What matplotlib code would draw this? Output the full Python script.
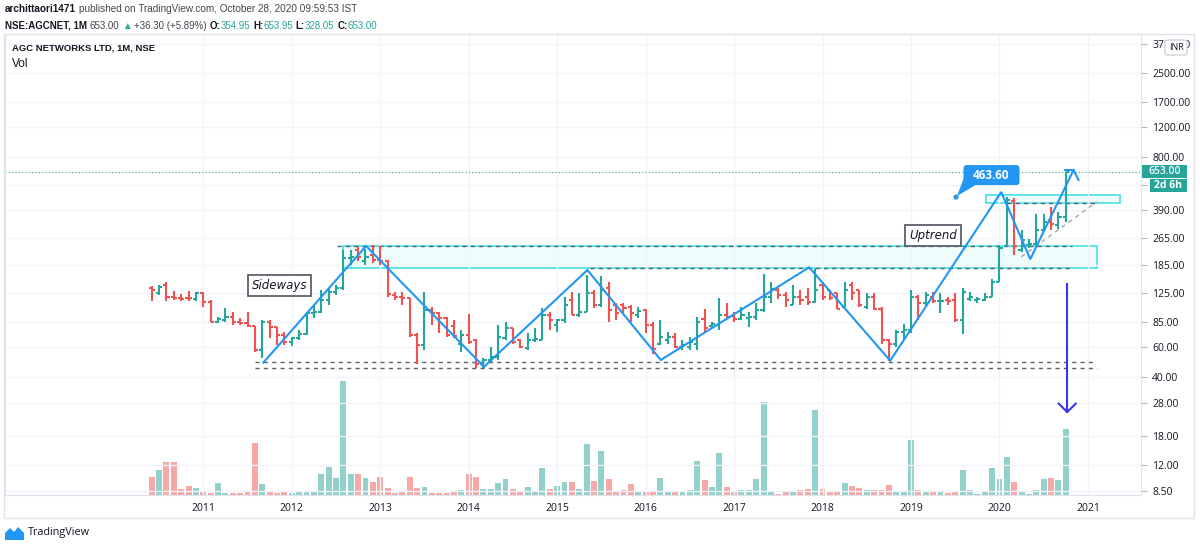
import numpy as np
import pandas as pd
import matplotlib
matplotlib.use("Agg")
import matplotlib.pyplot as plt
from matplotlib.patches import Rectangle, FancyBboxPatch, Polygon, Circle
from matplotlib.transforms import IdentityTransform

# ---------------- data (monthly bars, Jun 2010 .. Oct 2020) ----------------
months = pd.period_range("2010-06", "2020-10", freq="M")

opens = [134, 125, 140, 119, 118, 118, 116, 125, 111, 84.5,
         87, 90.5, 85, 83.5, 80, 57.7, 85, 79, 70.8, 64,
         68, 72, 95, 97, 114, 128, 134, 202, 225, 193,
         210, 197, 195, 122, 119, 117, 70.8, 61.8, 99.5, 95,
         89.5, 80, 63, 70.8, 66, 48, 50.4, 52.7, 68, 78,
         66, 59, 66, 66, 93, 81, 86.8, 114, 93, 97,
         125, 107, 134, 107, 107, 104, 93, 99.5, 81, 63,
         66, 69, 60, 60, 63, 88, 80, 81, 93, 91.5,
         88, 89, 90.5, 99.5, 119, 131, 122, 107, 119, 119,
         111, 140, 131, 125, 104, 140, 131, 104, 119, 101,
         66, 63, 74, 75.8, 119, 110, 119, 112, 114, 114,
         86.8, 116, 114, 114, 119, 145, 237, 440, 225, 241,
         246, 296, 332, 317, 354.95]
highs = [138, 140, 145, 129, 124, 129, 128, 128, 114, 90.5,
         103, 96.5, 89.5, 96.5, 80, 86.8, 86.8, 79.5, 74, 69,
         75.8, 97, 105, 131, 134, 140, 225, 225, 236, 230,
         241, 238, 198, 128, 128, 117, 73, 128, 104, 97,
         90, 86.8, 75.8, 94, 67, 52, 60, 81, 85, 78,
         67, 73, 78, 102, 97, 88, 119, 128, 125, 160,
         131, 158, 145, 110, 110, 107, 104, 101, 85, 86.8,
         74, 73, 66, 69, 90, 101, 85, 117, 110, 97,
         104, 97, 110, 162, 145, 134, 128, 140, 131, 134,
         173, 145, 131, 125, 145, 145, 131, 126, 125, 104,
         67, 75.8, 82, 131, 122, 128, 128, 125, 119, 125,
         134, 128, 119, 125, 151, 241, 463.6, 455, 296, 262,
         370, 370, 405, 378, 653.95]
lows = [113, 122, 112, 114, 113, 113, 112, 104, 84, 83,
        85, 81, 81, 79, 56.5, 52, 68, 61.8, 61.8, 61,
        66, 70.8, 89, 95, 107, 122, 131, 184, 193, 184,
        190, 184, 119, 114, 107, 69, 48, 57.7, 81, 73,
        69, 68, 56.5, 63, 45, 45, 49, 50.4, 66, 63,
        59, 57.7, 64.5, 66, 75.8, 74, 83, 93, 91, 97,
        102, 104, 85, 86.8, 95, 85, 89, 72.5, 55, 61.8,
        63, 59, 57.7, 57.7, 57.7, 74, 78, 75.8, 89, 85,
        86.8, 79.5, 86.8, 97, 110, 116, 104, 107, 107, 107,
        110, 114, 114, 101, 104, 114, 104, 101, 99.5, 63,
        50, 60, 67, 73, 86.8, 104, 110, 95, 107, 84,
        72, 112, 110, 112, 119, 145, 235, 210, 219, 231,
        241, 290, 296, 302, 328.05]
closes = [131, 137, 119, 118, 116, 117, 125, 111, 84.5, 88,
          90.5, 85, 83.5, 80, 57.7, 85, 79, 70.8, 64.5, 68,
          72, 95, 97, 114, 128, 134, 202, 205, 205, 205,
          197, 195, 124, 119, 117, 70.8, 61.8, 99.5, 95, 89.5,
          70.8, 69.5, 70.8, 64.5, 48, 50.4, 52.7, 69, 78, 64.5,
          60, 66, 67, 93, 86.8, 86.8, 107, 93, 97, 125,
          107, 131, 99.5, 96, 102, 96, 98, 81, 58.2, 69,
          69, 60, 61.8, 64.5, 85, 78, 82, 93, 90.5, 88,
          93, 90.5, 99.5, 119, 132, 122, 114, 119, 114, 111,
          131, 119, 117, 101, 131, 125, 107, 119, 101, 66,
          63, 74, 75.8, 119, 110, 122, 112, 113, 112, 86.8,
          128, 119, 116, 119, 145, 233, 445, 239, 258, 246,
          296, 332, 320, 355, 653.00]
volume = [18.3, 25, 32.7, 33.3, 5.7, 9, 7.3, 4.3, 2.3, 11.7,
          2.3, 2.3, 1.7, 3.3, 52.3, 10.7, 3.3, 2.3, 3.7, 2.3,
          3.3, 3.7, 3.7, 21, 28.3, 16.7, 114, 21, 21, 16.7,
          13.3, 17.7, 6.7, 2.3, 4.3, 18.3, 6.7, 7.7, 2.3, 2.3,
          1.7, 3.3, 5, 21, 18.3, 5.7, 5.7, 11.7, 16.3, 6.3,
          3.7, 8.3, 3.3, 27.3, 5.7, 9.3, 13, 13.3, 6.3, 51.3,
          14.3, 44, 16, 3.3, 5, 10.8, 3.4, 4.4, 3.7, 16.9,
          2.7, 2.7, 2.7, 5, 33.8, 15.5, 8.1, 41.9, 8.1, 2.7,
          5, 5, 16.2, 93.3, 2.7, 1.4, 3.4, 2.7, 5, 5.7,
          85.5, 6.1, 4.4, 2.7, 12.5, 9.1, 6.8, 5, 5, 5.4,
          10.1, 4.4, 3, 55.4, 5, 4.4, 4.4, 3.4, 2, 3,
          25, 5, 1.4, 3, 27, 16.2, 37.9, 13.2, 3, 1.4,
          5, 16.2, 17.2, 15.5, 65.6]

years = list(range(2011, 2022))
price_ticks = [3750, 2500, 1700, 1200, 800, 550, 390, 265, 185, 125, 85,
               60, 40, 28, 18, 12, 8.5]
hidden_ticks = [550]   # label covered by the countdown box in the reference

# drawings (x in months since Jun 2010, y = price)
zigzag_x = [15.14, 29.08, 45.08, 59.10, 69.06, 89.19, 100.18, 115.24, 119.18, 125.05]
zigzag_y = [48.6, 238, 45.9, 171.6, 50.4, 178, 49.9, 496.6, 199, 670]
zz_head_x = [123.92, 125.05, 125.72]
zz_head_y = [670, 670, 585]
down_arrow_x = 124.19
down_arrow_y = [141.8, 24.8]
down_head_y = 27.8
support_lines = [(14.0, 127.7, 48.7), (14.0, 128.2, 45.0),
                 (25.1, 124.9, 238), (59.5, 124.9, 177.5), (116.0, 128.2, 425.8)]
diag_x = [117.98, 128.2]
diag_y = [205.7, 435]
zone_big = (26.0, 128.2, 175.6, 238)
zone_small = (113.2, 131.3, 427, 477)
callout_price = 463.6
callout_x = 109.1
last_price = 653.00

# ---------------- figure ----------------
W, H = 1200, 549
fig = plt.figure(figsize=(W / 100, H / 100), dpi=100)
fig.patch.set_facecolor("white")
FONT = ["Open Sans", "DejaVu Sans"]
NARROW = ["Liberation Sans", "DejaVu Sans"]
DARK = "#131722"
TEAL = "#26a69a"
RED = "#ef5350"
GRID = "#f0f3fa"
BORDER = "#e0e3eb"


def fx(px):
    return px / W


def fy(py):
    return 1 - py / H


L, R, T, B = 5, 1141, 34, 495
rect = [fx(L), fy(B), (R - L) / W, (B - T) / H]
axv = fig.add_axes(rect)
ax = fig.add_axes(rect, sharex=axv)
ax.patch.set_visible(False)

x = np.arange(len(months))
o = np.array(opens); h = np.array(highs); lo = np.array(lows); c = np.array(closes)
up = c >= o
cols = np.where(up, TEAL, RED)
vcols = np.where(up, "#92d1cb", "#f6a8a6")

# volume
axv.bar(x, volume, width=0.8, color=vcols, linewidth=0)
axv.set_ylim(0, B - T)
axv.axis("off")

# price axes setup
ax.set_yscale("log")
ax.set_ylim(8.01, 4274)
ax.set_xlim(-19.9, 134.2)
ax.yaxis.tick_right()
ax.yaxis.set_minor_locator(matplotlib.ticker.NullLocator())
ax.set_yticks(price_ticks, labels=["" if v in hidden_ticks else f"{v:.2f}" for v in price_ticks])
year_pos = [(pd.Period(f"{y}-01", "M") - months[0]).n for y in years]
ax.set_xticks(year_pos, labels=[str(y) for y in years])
ax.grid(True, color=GRID, lw=1, zorder=0)
ax.tick_params(axis="y", which="major", length=4, color="#b2b5be", labelsize=7.5,
               labelcolor=DARK, pad=4)
ax.tick_params(axis="x", length=0, labelsize=7.5, labelcolor=DARK, pad=6)
for lab in ax.get_yticklabels() + ax.get_xticklabels():
    lab.set_family(FONT)
for s in ax.spines.values():
    s.set_color(BORDER)

# zones
x0, x1, y0, y1 = zone_big
ax.add_patch(Rectangle((x0, y0), x1 - x0, y1 - y0, fc="#effcfc", ec="#5fe6ea", lw=1.4, zorder=1.5))
x0, x1, y0, y1 = zone_small
ax.add_patch(Rectangle((x0, y0), x1 - x0, y1 - y0, fc="#effcfc", ec="#5fe6ea", lw=1.4, zorder=1.5))

# dashed support / resistance lines
for xa, xb, yv in support_lines:
    ax.plot([xa, xb], [yv, yv], color="#5d606b", lw=1, ls=(0, (3, 3)), zorder=2)
ax.plot(diag_x, diag_y, color="#a3a6af", lw=1, ls=(0, (3, 3)), zorder=2)

# last price dotted line
ax.axhline(last_price, color=TEAL, lw=0.8, ls=(0, (1, 2)), zorder=2)

# OHLC bars
ax.vlines(x, lo, h, colors=cols, lw=1.5, zorder=3)
ax.hlines(o, x - 0.42, x, colors=cols, lw=1.5, zorder=3)
ax.hlines(c, x, x + 0.42, colors=cols, lw=1.5, zorder=3)

# zig-zag path with arrow
ax.plot(zigzag_x, zigzag_y, color="#2196f3", lw=1.5, zorder=4, solid_joinstyle="miter")
ax.plot(zz_head_x, zz_head_y, color="#2196f3", lw=1.5, zorder=4)

# down arrow
ax.plot([down_arrow_x, down_arrow_x], down_arrow_y, color="#3535f5", lw=1.5, zorder=4)
ax.plot([down_arrow_x - 1.15, down_arrow_x, down_arrow_x + 1.15],
        [down_head_y, down_arrow_y[1], down_head_y], color="#3535f5", lw=1.5, zorder=4)

# text notes
box = dict(boxstyle="square,pad=0.35", fc="white", ec="#5d606b", lw=1.3)
ax.text(17.34, 139.5, "Sideways", style="italic", fontsize=8.5, color=DARK,
        ha="center", va="center", bbox=box, zorder=5, family="DejaVu Sans")
ax.text(106.0, 276, "Uptrend", style="italic", fontsize=8.5, color=DARK,
        ha="center", va="center", bbox=box, zorder=5, family="DejaVu Sans")

# callout 463.60
dx, dy = ax.transData.transform((callout_x, callout_price))
bx, by = dx + 7.5, dy + 12
ax.add_patch(Polygon([(dx + 1, dy + 1), (bx, by + 6), (bx + 12, by)], closed=True,
                     fc="#2196f3", ec="none", transform=IdentityTransform(), zorder=6))
ax.add_patch(Circle((dx, dy), 2.6, fc="#2196f3", ec="none", transform=IdentityTransform(), zorder=6))
ax.add_patch(FancyBboxPatch((bx, by), 56, 20, boxstyle="round,pad=0,rounding_size=3",
                            fc="#2196f3", ec="none", transform=IdentityTransform(), zorder=6))
ax.text(bx + 28, by + 10, f"{callout_price:.2f}", transform=IdentityTransform(), color="white",
        fontsize=8.5, fontweight="bold", ha="center", va="center", zorder=7, family=FONT)

# outer frame
fig.add_artist(Rectangle((fx(4), fy(518)), (1194 - 4) / W, (518 - 34) / H, transform=fig.transFigure,
                         fill=False, ec=BORDER, lw=1))

# price-axis labels (last price, countdown, currency)
_, py_last = ax.transData.transform((0, last_price))
ly = H - py_last
fig.add_artist(Rectangle((fx(1142), fy(ly + 6.5)), 45 / W, 13 / H, transform=fig.transFigure,
                         fc=TEAL, ec="none"))
fig.text(fx(1164.5), fy(ly), f"{last_price:.2f}", color="white", fontsize=7.5, ha="center",
         va="center", family=FONT, fontweight="semibold")
fig.add_artist(Rectangle((fx(1150), fy(ly + 20)), 37 / W, 13 / H, transform=fig.transFigure,
                         fc=TEAL, ec="none"))
fig.text(fx(1168.5), fy(ly + 13.5), "2d 6h", color="white", fontsize=7.5, ha="center",
         va="center", family=FONT, fontweight="bold")
fig.add_artist(FancyBboxPatch((fx(1165), fy(55)), 22 / W, 15 / H, transform=fig.transFigure,
                              boxstyle="round,pad=0,rounding_size=0.003", fc="white", ec="#d1d4dc", lw=1))
fig.text(fx(1176), fy(47.5), "INR", color=DARK, fontsize=6.5, ha="center", va="center", family=FONT)

# header text runs
renderer = fig.canvas.get_renderer()


def measure(s, size, weight, fam):
    t = fig.text(0, 0, s, fontsize=size, fontweight=weight, family=fam)
    wdt = t.get_window_extent(renderer).width
    t.remove()
    return wdt


def runs(x_px, y_px, parts, size, fam, target=None):
    sp = measure("x x", size, "normal", fam) - measure("xx", size, "normal", fam)
    if target:
        tot = sum(measure(s, size, w, fam) + (sp if gap else 0) for s, w, col, gap in parts)
        size = size * target / tot
        sp = measure("x x", size, "normal", fam) - measure("xx", size, "normal", fam)
    xp = x_px
    for s, w, col, gap in parts:
        t = fig.text(fx(xp), fy(y_px), s, fontsize=size, fontweight=w, color=col,
                     family=fam, va="center", ha="left")
        xp += t.get_window_extent(renderer).width + (sp if gap else 0)


GRAY = "#434651"
runs(5, 9, [("archittaori1471", "bold", DARK, True),
            ("published on TradingView.com, October 28, 2020 09:59:53 IST", "normal", GRAY, False)],
     8.5, NARROW, target=350)
runs(5, 26, [("NSE:AGCNET, 1M", "bold", DARK, True),
             ("653.00", "normal", GRAY, True),
             ("\u25b2", "normal", TEAL, True),
             ("+36.30 (+5.89%)", "normal", GRAY, True),
             ("O:", "bold", DARK, False), ("354.95", "normal", TEAL, True),
             ("H:", "bold", DARK, False), ("653.95", "normal", TEAL, True),
             ("L:", "bold", DARK, False), ("328.05", "normal", TEAL, True),
             ("C:", "bold", DARK, False), ("653.00", "normal", TEAL, False)],
     8.5, NARROW, target=375)
runs(12, 48, [("AGC NETWORKS LTD, 1M, NSE", "bold", DARK, False)], 8, NARROW, target=142)
fig.text(fx(12), fy(64), "Vol", fontsize=8.5, color=DARK, va="center", family=NARROW)

# TradingView footer
fig.add_artist(Polygon([(fx(5), fy(540)), (fx(5), fy(533)), (fx(10), fy(528)), (fx(14), fy(532)),
                        (fx(18), fy(527)), (fx(24), fy(533)), (fx(24), fy(540))],
                       closed=True, transform=fig.transFigure, fc="#2196f3", ec="none"))
fig.text(fx(28), fy(533), "TradingView", fontsize=7.8, color=DARK, va="center", family=FONT)

fig.savefig("out.png", dpi=100)
